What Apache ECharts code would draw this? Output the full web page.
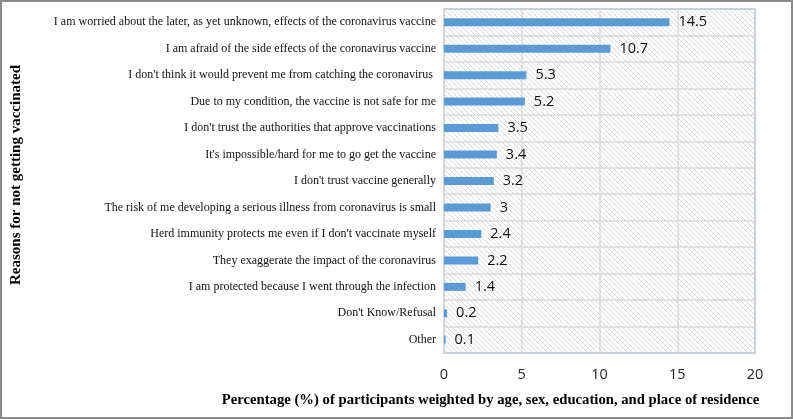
<!DOCTYPE html>
<html>
<head>
<meta charset="utf-8">
<script src="https://cdn.jsdelivr.net/npm/echarts@6/dist/echarts.min.js"></script>
<style>
  html, body { margin: 0; padding: 0; background: #fff; }
  #main { width: 793px; height: 419px; box-sizing: border-box; border: 2px solid #8a8a8a; }
</style>
</head>
<body>
<div id="main"></div>
<script>
const reasons = [
  'I am worried about the later, as yet unknown, effects of the coronavirus vaccine',
  'I am afraid of the side effects of the coronavirus vaccine',
  "I don't think it would prevent me from catching the coronavirus ",
  'Due to my condition, the vaccine is not safe for me',
  "I don't trust the authorities that approve vaccinations",
  "It's impossible/hard for me to go get the vaccine",
  "I don't trust vaccine generally",
  'The risk of me developing a serious illness from coronavirus is small',
  "Herd immunity protects me even if I don't vaccinate myself",
  'They exaggerate the impact of the coronavirus',
  'I am protected because I went through the infection',
  "Don't Know/Refusal",
  'Other'
]
const percents = [14.5, 10.7, 5.3, 5.2, 3.5, 3.4, 3.2, 3, 2.4, 2.2, 1.4, 0.2, 0.1]
const xTicks = [0, 5, 10, 15, 20]

// hatched background for the plot area ("\" lines)
function hatch () {
  let n = 5
  let c = document.createElement('canvas')
  c.width = n
  c.height = n
  let ctx = c.getContext('2d')
  ctx.fillStyle = '#ffffff'
  ctx.fillRect(0, 0, n, n)
  ctx.fillStyle = '#dadada'
  for (let i = 0; i < n; i++) {
    ctx.fillRect(i, i, 1, 1)
  }
  return c
}

let chart = echarts.init(document.getElementById('main'))
chart.setOption({
  animation: false,
  grid: {
    left: 442,
    right: 36,
    top: 7,
    bottom: 64,
    outerBoundsMode: 'none',
    containLabel: false,
    show: true,
    backgroundColor: { image: hatch(), repeat: 'repeat' },
    borderColor: '#7f9fd0',
    borderWidth: 1.5
  },
  xAxis: {
    type: 'value',
    min: xTicks[0],
    max: xTicks[xTicks.length - 1],
    interval: 5,
    axisLine: { show: false },
    axisTick: { show: false },
    axisLabel: { fontFamily: 'Open Sans', fontSize: 14.5, color: '#222', margin: 14 },
    splitLine: { lineStyle: { color: '#d9d9d9', width: 1.5 } },
    name: 'Percentage (%) of participants weighted by age, sex, education, and place of residence',
    nameLocation: 'middle',
    nameGap: 40,
    nameTextStyle: { fontFamily: 'Liberation Serif', fontWeight: 'bold', fontSize: 14.7, color: '#000', padding: [0, 218, 0, 0] }
  },
  yAxis: {
    type: 'category',
    inverse: true,
    data: reasons,
    axisLine: { lineStyle: { color: '#d9d9d9', width: 1.5 } },
    axisTick: { length: 3, lineStyle: { color: '#d9d9d9' } },
    axisLabel: { fontFamily: 'Liberation Serif', fontSize: 12, color: '#111', margin: 8 },
    splitLine: { show: true, lineStyle: { color: '#d9d9d9', width: 1.5 } },
    name: 'Reasons for not getting vaccinated',
    nameLocation: 'middle',
    nameGap: 420,
    nameRotate: 90,
    nameTextStyle: { fontFamily: 'Liberation Serif', fontWeight: 'bold', fontSize: 15, color: '#000', padding: [0, 0, 0, 12] }
  },
  series: [{
    type: 'bar',
    data: percents,
    barWidth: 8,
    itemStyle: { color: '#5b9bd5' },
    label: {
      show: true,
      position: 'right',
      distance: 9,
      fontFamily: 'Open Sans',
      fontSize: 14.5,
      color: '#111'
    }
  }]
})
</script>
</body>
</html>
